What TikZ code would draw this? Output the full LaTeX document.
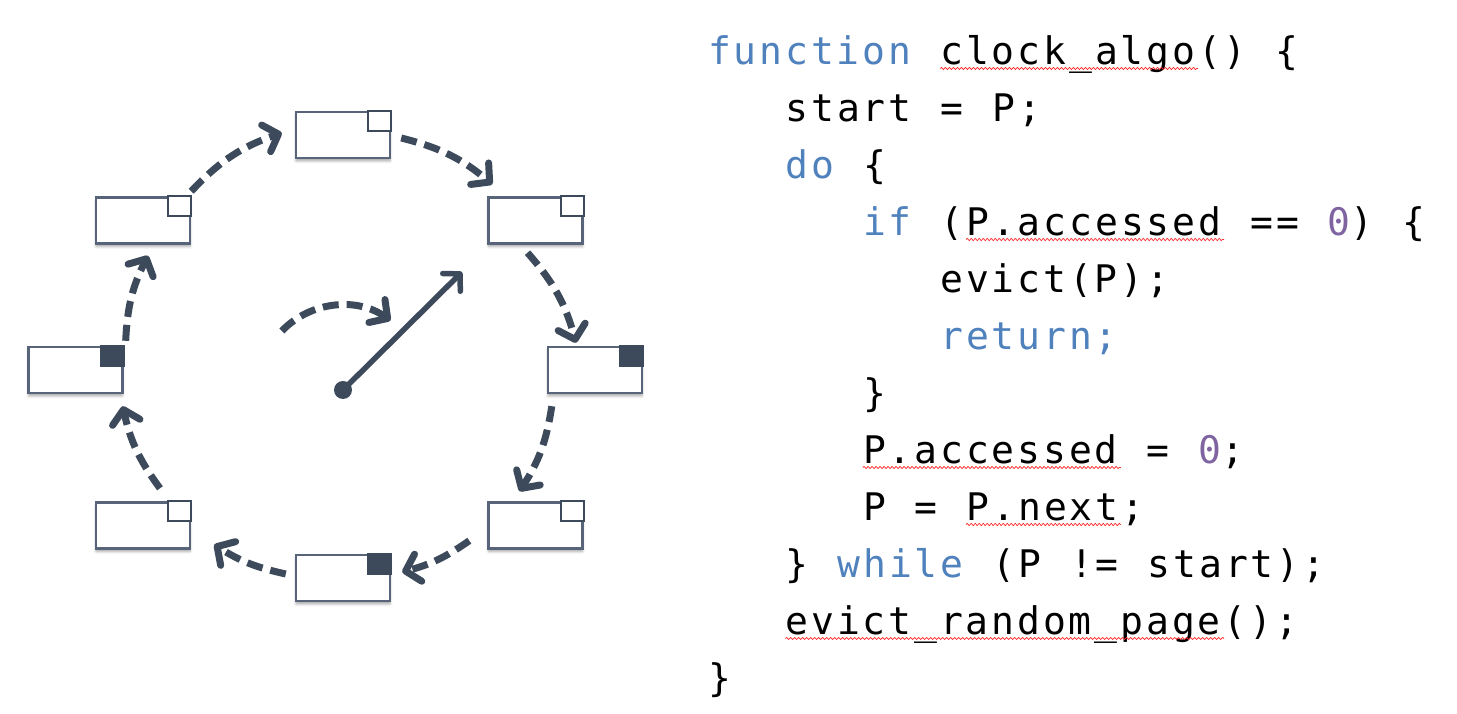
\documentclass[tikz,border=0pt]{standalone}
\usepackage{fontspec}
\usepackage{xcolor}
\usepackage{tikz}
\usetikzlibrary{positioning, arrows.meta, decorations.pathmorphing, shadows.blur}
\newfontfamily\codefont{DejaVu Sans Mono}[LetterSpace=7.6, WordSpace={1.1276,0,0}]
\definecolor{slate}{HTML}{3D4A5C}
\definecolor{edge}{HTML}{58647A}
\definecolor{kwblue}{HTML}{4F81BD}
\definecolor{numpurple}{HTML}{8064A2}
\newcommand{\kw}[1]{\textcolor{kwblue}{#1}}
\newcommand{\nm}[1]{\textcolor{numpurple}{#1}}
\def\cw{25.8}

\begin{document}
\begin{tikzpicture}[x=1pt, y=1pt,
  page/.style={draw=edge, line width=2.4pt, fill=white, minimum width=94pt, minimum height=46pt, inner sep=0pt,
    blur shadow={shadow xshift=0pt, shadow yshift=-3pt, shadow blur radius=2.5pt, shadow opacity=35}},
  bitoff/.style={draw=slate, line width=2.2pt, fill=white},
  biton/.style={draw=slate, line width=2.2pt, fill=slate},
  hop/.style={draw=slate, line width=7pt, dash pattern=on 16pt off 8pt, -{Straight Barb[length=13pt, width=28pt, round]}},
  code/.style={anchor=base west, inner sep=0pt, font=\codefont\fontsize{38}{38}\selectfont},
  squig/.style={draw=red!85, line width=0.7pt, decorate, decoration={snake, amplitude=1.1pt, segment length=4pt}}]
\useasboundingbox (0,0) rectangle (1457,714);

% clock of pages
\node[page] (pgN)  at (343,579) {};
\node[page] (pgNE) at (535.5,493.5) {};
\node[page] (pgE)  at (595,344) {};
\node[page] (pgSE) at (535.5,188.5) {};
\node[page] (pgS)  at (343,136) {};
\node[page] (pgSW) at (143,188.5) {};
\node[page] (pgW)  at (75.5,344) {};
\node[page] (pgNW) at (143,493.5) {};
\foreach \p/\s in {pgN/bitoff, pgNE/bitoff, pgE/biton, pgSE/bitoff, pgS/biton, pgSW/bitoff, pgW/biton, pgNW/bitoff}
  \draw[\s] (\p.north east) rectangle ++(-23,-20);

\draw[hop] ([shift={(0,5)}]pgNW.north east) to[bend left=14] ([shift={(-13,2)}]pgN.west);
\draw[hop] ([shift={(10,-3)}]pgN.east) to[bend left=13] ([shift={(5,12)}]pgNE.north west);
\draw[hop] ([shift={(-8,-8)}]pgNE.south) to[bend left=13] ([shift={(-19,3)}]pgE.north);
\draw[hop] ([shift={(5,-12)}]pgE.south west) to[bend left=12] ([shift={(-16,10)}]pgSE.north);
\draw[hop] ([shift={(-18,9)}]pgSE.south west) to[bend left=10] ([shift={(11,6)}]pgS.east);
\draw[hop] ([shift={(-9,4)}]pgS.west) to[bend left=10] ([shift={(23,5)}]pgSW.south east);
\draw[hop] ([shift={(17,13)}]pgSW.north) to[bend left=12] ([shift={(-1,-12)}]pgW.south east);
\draw[hop] ([shift={(2,5)}]pgW.north east) to[bend left=12] ([shift={(5,-11)}]pgNW.south);

% hand
\node[circle, fill=slate, inner sep=0pt, minimum size=18pt] (hub) at (343,324) {};
\coordinate (handtip) at (462,442);
\draw[slate, line width=5.5pt, -{Straight Barb[length=12pt, width=25pt, round]}] (hub.center) -- (handtip);
\draw[hop] (hub.center) ++(136:85) arc[start angle=136, end angle=55, radius=84];

% code
\node[code] (l1)  at (708,649)   {\kw{function} clock\_algo() \{};
\node[code] (l2)  at (785.4,592) {start = P;};
\node[code] (l3)  at (785.4,535) {\kw{do} \{};
\node[code] (l4)  at (862.8,478) {\kw{if} (P.accessed == \nm{0}) \{};
\node[code] (l5)  at (940.2,421) {evict(P);};
\node[code] (l6)  at (940.2,364) {\kw{return;}};
\node[code] (l7)  at (862.8,307) {\}};
\node[code] (l8)  at (862.8,250) {P.accessed = \nm{0};};
\node[code] (l9)  at (862.8,193) {P = P.next;};
\node[code] (l10) at (785.4,136) {\} \kw{while} (P != start);};
\node[code] (l11) at (785.4,79)  {evict\_random\_page();};
\node[code] (l12) at (708,22)    {\}};

\draw[squig] ([shift={(9*\cw,-3.5)}]l1.base west) -- ++(10*\cw,0);
\draw[squig] ([shift={(4*\cw,-3.5)}]l4.base west) -- ++(10*\cw,0);
\draw[squig] ([shift={(0,-3.5)}]l8.base west) -- ++(10*\cw,0);
\draw[squig] ([shift={(4*\cw,-3.5)}]l9.base west) -- ++(6*\cw,0);
\draw[squig] ([shift={(0,-3.5)}]l11.base west) -- ++(17*\cw,0);
\end{tikzpicture}
\end{document}
